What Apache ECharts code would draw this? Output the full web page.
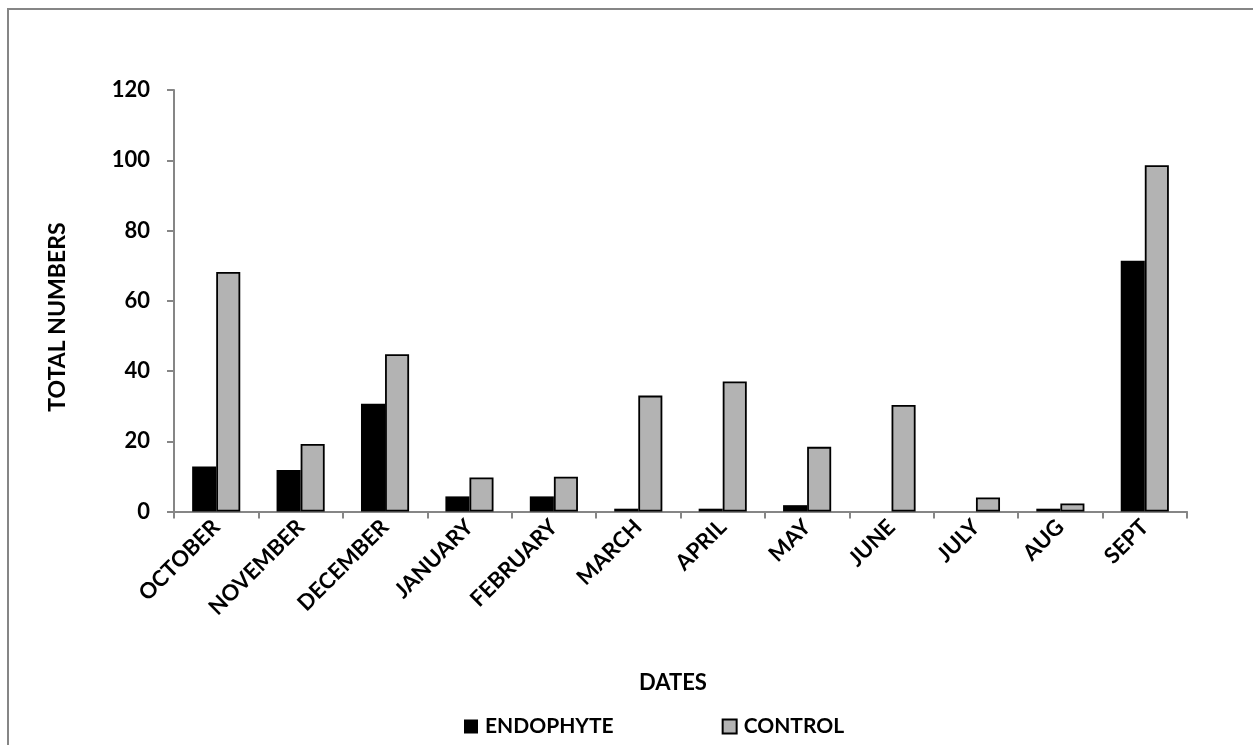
<!DOCTYPE html>
<html>
<head>
<meta charset="utf-8">
<script src="https://cdn.jsdelivr.net/npm/echarts@6/dist/echarts.min.js"></script>
<style>
html,body{margin:0;padding:0;background:#fff;}
#chart{width:1253px;height:745px;}
</style>
</head>
<body>
<div id="chart"></div>
<script>
const categories = ['OCTOBER','NOVEMBER','DECEMBER','JANUARY','FEBRUARY','MARCH','APRIL','MAY','JUNE','JULY','AUG','SEPT'];
const endophyte = [12.8, 11.8, 30.7, 4.3, 4.3, 0.8, 0.8, 1.8, 0, 0, 0.8, 71.4];
const control = [68.2, 19.2, 44.8, 9.7, 9.9, 33.0, 37.0, 18.4, 30.3, 4.0, 2.3, 98.6];
const yTicks = [0, 20, 40, 60, 80, 100, 120];

const FONT = 'Lato, "Open Sans", sans-serif';
const chart = echarts.init(document.getElementById('chart'), null, {renderer:'canvas'});
chart.setOption({
  animation:false,
  backgroundColor:'#fff',
  grid:{left:174, right:66, top:90, bottom:233.5, containLabel:false},
  legend:{
    left:459, top:711,
    itemWidth:14, itemHeight:14, itemGap:108,
    icon:'rect',
    textStyle:{fontFamily:FONT, fontWeight:'bold', fontSize:21, color:'#000', padding:[0,0,0,2]},
    data:['ENDOPHYTE','CONTROL']
  },
  xAxis:{
    type:'category', data:categories,
    axisLine:{lineStyle:{color:'#868686', width:2}},
    axisTick:{show:true, length:7, alignWithLabel:false, lineStyle:{color:'#868686', width:2}},
    axisLabel:{rotate:45, interval:0, margin:12, fontFamily:FONT, fontWeight:'bold', fontSize:22, color:'#000'}
  },
  yAxis:{
    type:'value', min:yTicks[0], max:yTicks[yTicks.length-1], interval:20,
    splitLine:{show:false},
    axisLine:{show:true, lineStyle:{color:'#868686', width:2}},
    axisTick:{show:true, length:7, lineStyle:{color:'#868686', width:2}},
    axisLabel:{margin:24, fontFamily:FONT, fontWeight:'bold', fontSize:22, color:'#000'}
  },
  series:[
    {name:'ENDOPHYTE', type:'bar', data:endophyte, barGap:'0%', barCategoryGap:'43%',
     itemStyle:{color:'#000', borderColor:'#000', borderWidth:0}},
    {name:'CONTROL', type:'bar', data:control, barGap:'0%', barCategoryGap:'43%',
     itemStyle:{color:'#b3b3b3', borderColor:'#000', borderWidth:1.8}}
  ],
  graphic:[
    {type:'rect', shape:{x:8, y:9, width:1400, height:900}, style:{fill:'none', stroke:'#868686', lineWidth:2}, silent:true},
    {type:'text', x:673, y:683, style:{text:'DATES', fontFamily:FONT, fontWeight:'bold', fontSize:22, fill:'#000', align:'center', verticalAlign:'middle'}},
    {type:'text', x:58, y:317, rotation:Math.PI/2, style:{text:'TOTAL NUMBERS', fontFamily:FONT, fontWeight:'bold', fontSize:23, fill:'#000', align:'center', verticalAlign:'middle'}}
  ]
});
</script>
</body>
</html>
